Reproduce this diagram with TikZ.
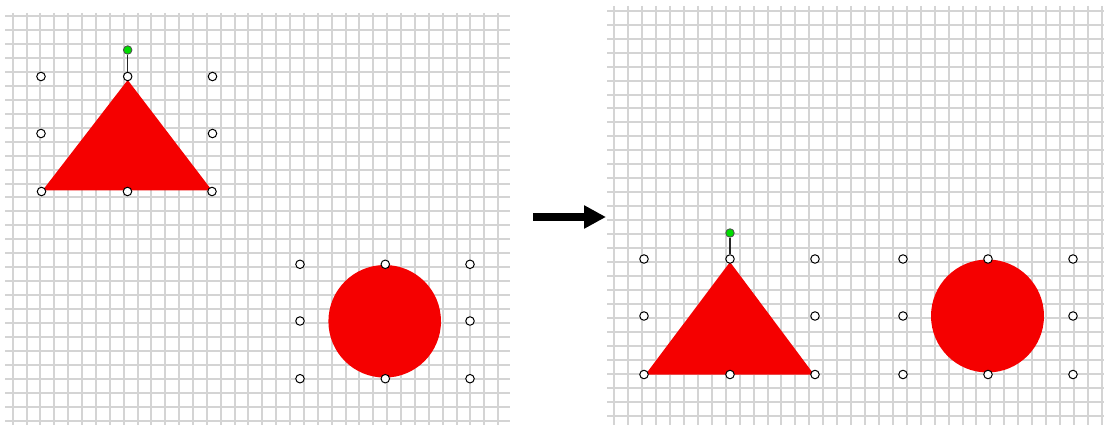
\documentclass[tikz,border=0pt]{standalone}
\usetikzlibrary{arrows.meta}
\definecolor{shapered}{RGB}{245,0,0}
\definecolor{gridgray}{RGB}{212,212,212}
\definecolor{rotgreen}{RGB}{0,220,0}
\begin{document}
\begin{tikzpicture}[x=1pt,y=-1pt,
  gridline/.style={draw=gridgray,line width=2pt},
  redshape/.style={fill=shapered,draw=none},
  handle/.style={circle,draw=black,fill=white,line width=1pt,inner sep=0pt,minimum size=8.5pt},
  rothandle/.style={circle,draw=black!70,fill=rotgreen,line width=0.8pt,inner sep=0pt,minimum size=8.5pt},
  rotline/.style={draw=black!85,line width=1.1pt},
  bigarrow/.style={line width=8.5pt,-{Triangle[length=22pt,width=22pt]}}]
\useasboundingbox (0,0) rectangle (1104,425);
\fill[white] (0,0) rectangle (1104,425);
% left grid
\foreach \k in {0,...,35} {\pgfmathsetmacro{\gx}{round(12.7+13.87*\k)}
  \draw[gridline] (\gx,13) -- (\gx,425);}
\foreach \k in {0,...,29} {\pgfmathsetmacro{\gy}{round(16+13.96*\k)}
  \draw[gridline] (5,\gy) -- (510,\gy);}
% right grid
\foreach \k in {0,...,35} {\pgfmathsetmacro{\gx}{round(614.3+13.93*\k)}
  \draw[gridline] (\gx,6) -- (\gx,425);}
\foreach \k in {0,...,29} {\pgfmathsetmacro{\gy}{round(10.7+13.97*\k)}
  \draw[gridline] (607,\gy) -- (1104,\gy);}
% left shapes
\fill[redshape] (127.7,80) -- (212,190.5) -- (42.5,190.5) -- cycle;
\fill[redshape] (384.7,321.3) circle[radius=56.3];
% right shapes
\fill[redshape] (730,262) -- (814,374.5) -- (645.5,374.5) -- cycle;
\fill[redshape] (987.5,316) circle[radius=56.5];
% arrow
\coordinate (arrS) at (533,217);
\coordinate (arrE) at (606,217);
\draw[bigarrow] (arrS) -- (arrE);
% left triangle handles
\node[handle] (lt1) at (41,76.5) {};
\node[handle] (lt2) at (127.7,76.5) {};
\node[handle] (lt3) at (212.5,76.5) {};
\node[handle] (lt4) at (41,133.5) {};
\node[handle] (lt5) at (212.5,133.5) {};
\node[handle] (lt6) at (41.5,191.5) {};
\node[handle] (lt7) at (127.5,191.5) {};
\node[handle] (lt8) at (212,191.5) {};
\node[rothandle] (lrot) at (127.7,50) {};
\draw[rotline] (lrot) -- (lt2);
% left circle handles
\node[handle] (lc1) at (300,264.3) {};
\node[handle] (lc2) at (385.3,264.3) {};
\node[handle] (lc3) at (470,264.3) {};
\node[handle] (lc4) at (300,321) {};
\node[handle] (lc5) at (470,321) {};
\node[handle] (lc6) at (300,378.7) {};
\node[handle] (lc7) at (385.3,378.7) {};
\node[handle] (lc8) at (470,378.7) {};
% right triangle handles
\node[handle] (rt1) at (644,259) {};
\node[handle] (rt2) at (730,259) {};
\node[handle] (rt3) at (815,259) {};
\node[handle] (rt4) at (644,316) {};
\node[handle] (rt5) at (815,316) {};
\node[handle] (rt6) at (644,374.5) {};
\node[handle] (rt7) at (730,374.5) {};
\node[handle] (rt8) at (815,374.5) {};
\node[rothandle] (rrot) at (730,233) {};
\draw[rotline] (rrot) -- (rt2);
% right circle handles
\node[handle] (rc1) at (903,259) {};
\node[handle] (rc2) at (988,259) {};
\node[handle] (rc3) at (1073,259) {};
\node[handle] (rc4) at (903,316) {};
\node[handle] (rc5) at (1073,316) {};
\node[handle] (rc6) at (903,374.5) {};
\node[handle] (rc7) at (988,374.5) {};
\node[handle] (rc8) at (1073,374.5) {};
\end{tikzpicture}
\end{document}
